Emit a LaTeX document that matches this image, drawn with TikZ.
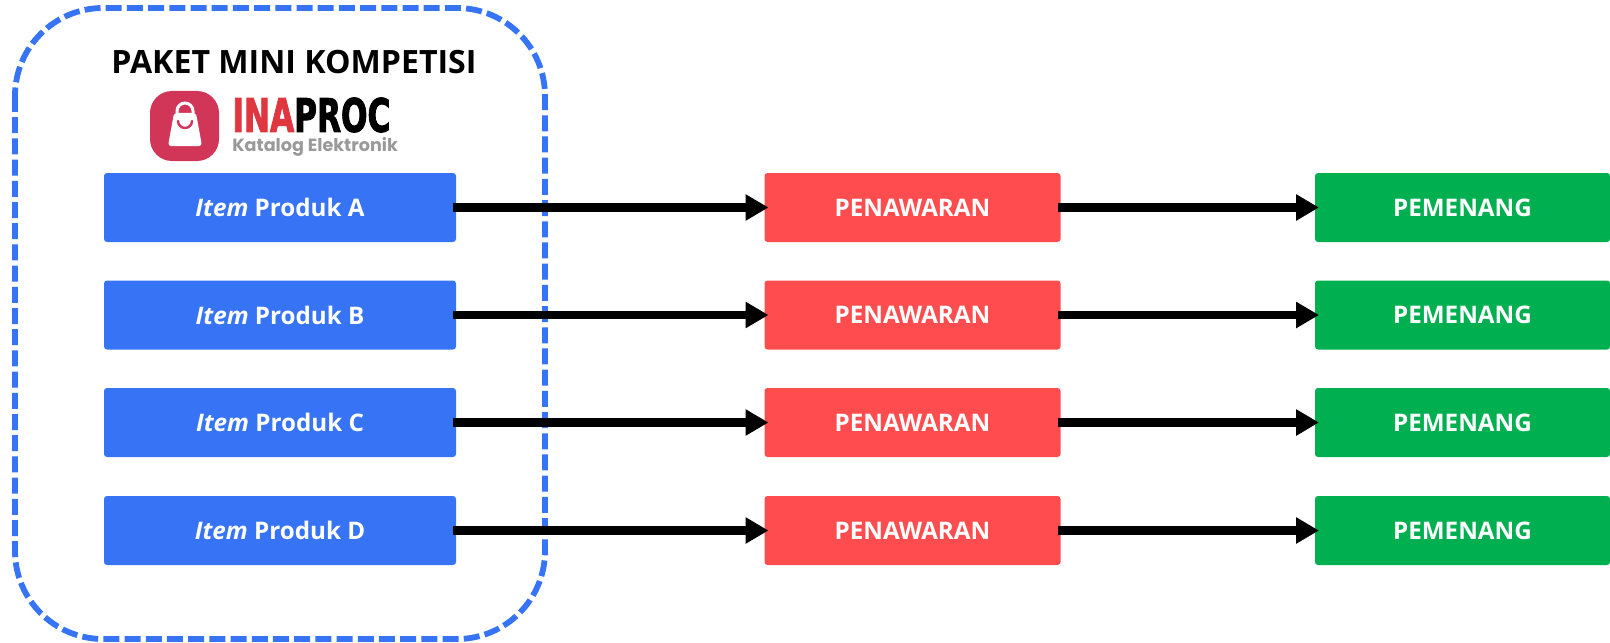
\documentclass[tikz,border=0pt]{standalone}
\usepackage{fontspec}
\usepackage{xcolor}
\setmainfont{Open Sans}
\newfontfamily\logofont{Poppins}
\newfontfamily\inafont[FakeBold=2.5]{DejaVu Sans Bold}
\usetikzlibrary{arrows.meta}
\definecolor{itemblue}{HTML}{3674F5}
\definecolor{offerred}{HTML}{FF4D4F}
\definecolor{winnergreen}{HTML}{00B050}
\definecolor{logored}{HTML}{D13558}
\tikzset{
  itembox/.style={fill=itemblue, rounded corners=1.5pt, minimum width=176pt, minimum height=34.5pt, text=white, font=\fontsize{12.1}{14}\selectfont\bfseries, inner sep=0pt},
  offerbox/.style={itembox, fill=offerred, minimum width=148pt},
  winbox/.style={itembox, fill=winnergreen, minimum width=147.5pt},
  flow/.style={line width=4.2pt, -{Triangle[length=11.5pt,width=12.5pt]}, shorten <=-1.5pt, shorten >=-2.2pt},
}
\begin{document}
\begin{tikzpicture}[x=0.5pt, y=-0.5pt]
\useasboundingbox (0,0) rectangle (1610,642);
% frame
\draw[itemblue, line width=2.9pt, dash pattern=on 8pt off 2.6pt, rounded corners=44pt] (15,8) rectangle (545,639);
\node (title) at (294,62) {\fontsize{16.05}{18}\selectfont\bfseries PAKET MINI KOMPETISI};
% logo
\fill[logored, rounded corners=11pt] (150,91) rectangle (219,161);
\draw[white, line width=1.5pt] (177,116) -- (177,111) arc (180:360:8) -- (193,116);
\fill[white, rounded corners=1.5pt] (174,113) -- (196,113) -- (202,146) -- (168,146) -- cycle;
\draw[logored, line width=1.2pt, line cap=round] (178,121) arc (180:0:7);
\node[anchor=west, inner sep=0pt] (ina) at (232,115) {\resizebox{79pt}{17pt}{\inafont\textcolor[HTML]{E0363F}{INA}PROC}};
\node[anchor=west, inner sep=0pt, text=black!40] (katalog) at (232,146.5) {\fontsize{8.8}{11}\selectfont\logofont\bfseries Katalog Elektronik};
% rows
\foreach \name/\y in {A/207.5, B/315, C/422.5, D/530.5} {
    \node[itembox] (item\name) at (280,\y) {\textit{Item} Produk \name};
    \node[offerbox] (offer\name) at (912.5,\y) {PENAWARAN};
    \node[winbox] (win\name) at (1462.5,\y) {PEMENANG};
    \draw[flow] (item\name) -- (offer\name);
    \draw[flow] (offer\name) -- (win\name);
}
\end{tikzpicture}
\end{document}
